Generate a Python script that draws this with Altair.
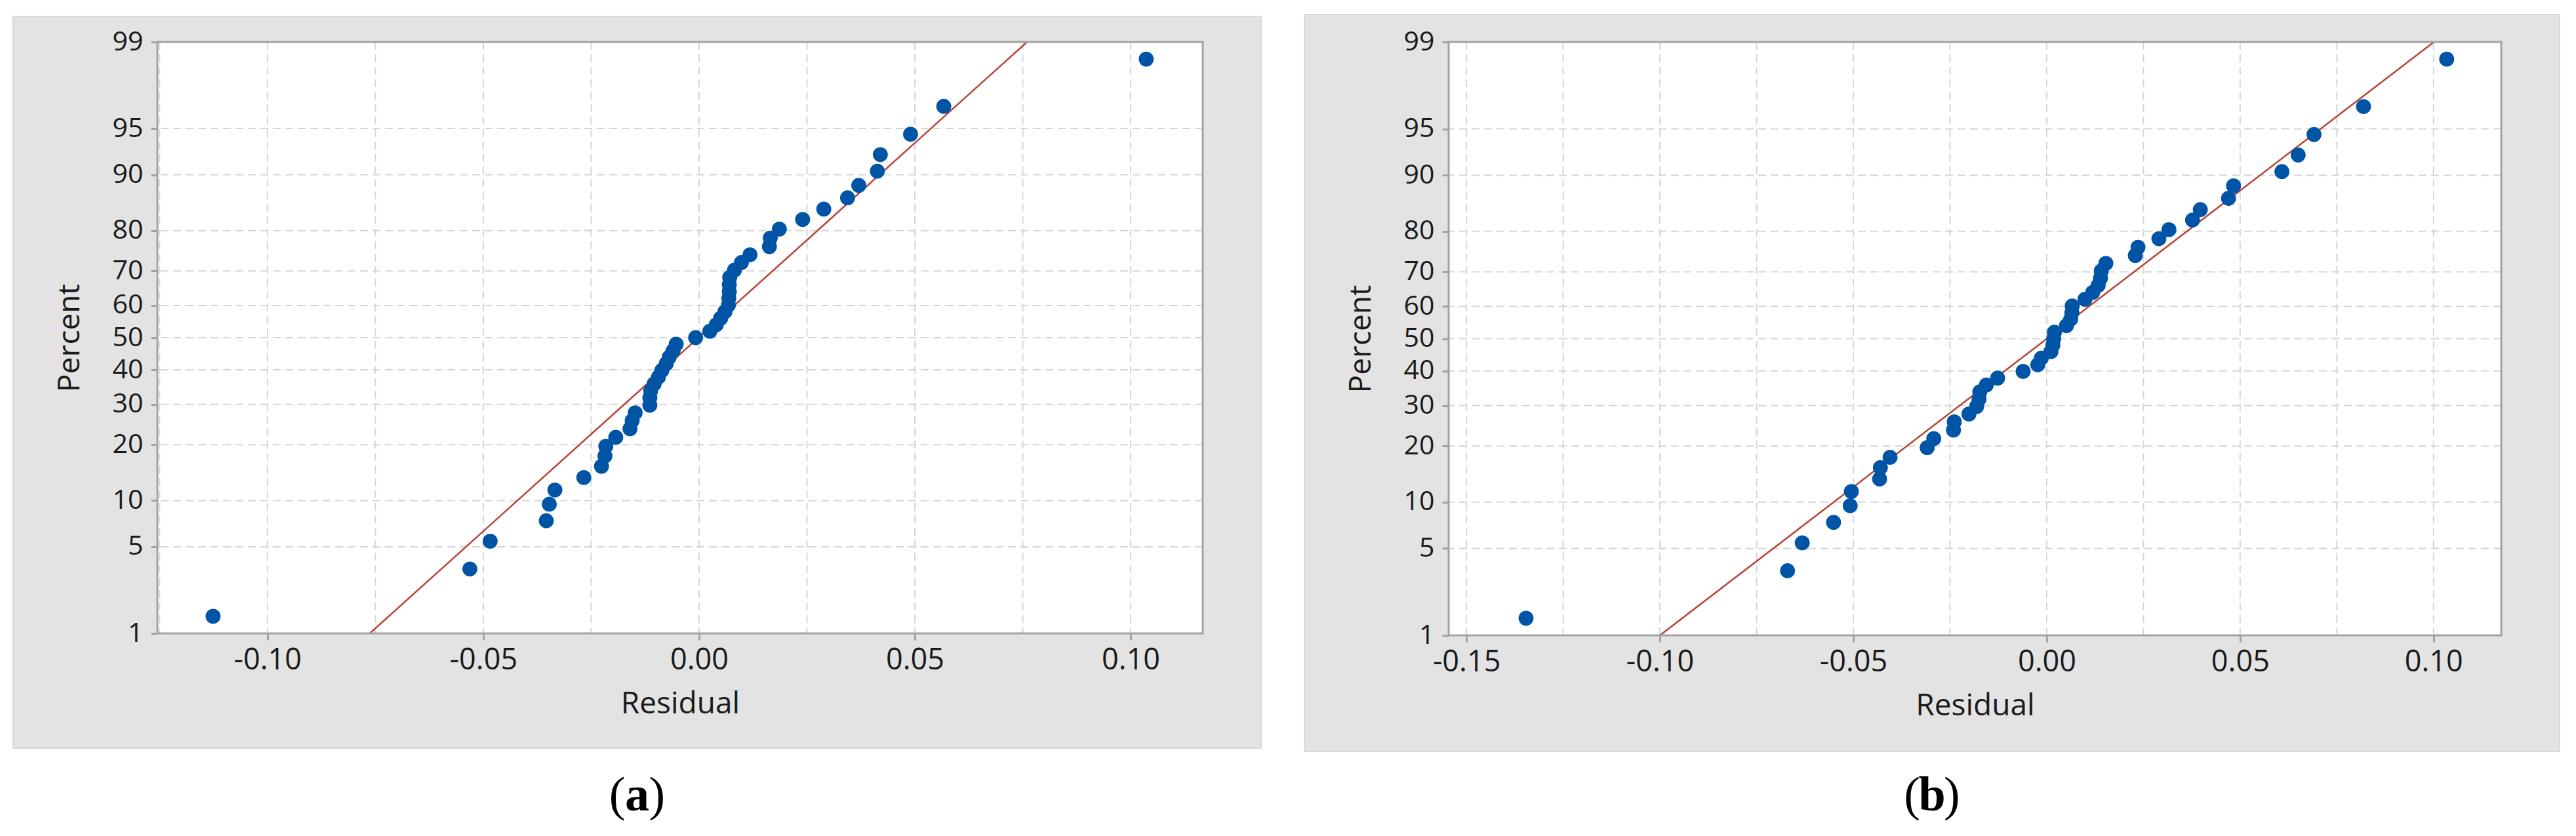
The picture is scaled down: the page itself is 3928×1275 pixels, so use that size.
import altair as alt
import pandas as pd
from statistics import NormalDist

# ---------------- data ----------------
# plotting positions (percent) shared by both panels (49 residuals each)
percent = [1.42, 3.44, 5.47, 7.49, 9.51, 11.54, 13.56, 15.59, 17.61, 19.64,
           21.66, 23.68, 25.71, 27.73, 29.76, 31.78, 33.81, 35.83, 37.85, 39.88,
           41.90, 43.93, 45.95, 47.98, 50.00, 52.02, 54.05, 56.07, 58.10, 60.12,
           62.15, 64.17, 66.19, 68.22, 70.24, 72.27, 74.29, 76.32, 78.34, 80.36,
           82.39, 84.41, 86.44, 88.46, 90.49, 92.51, 94.53, 96.56, 98.58]

resid_a = [-0.1126, -0.0531, -0.0484, -0.0354, -0.0347, -0.0334, -0.0267, -0.0226, -0.0218, -0.0216,
           -0.0193, -0.0160, -0.0155, -0.0148, -0.0114, -0.0114, -0.0112, -0.0104, -0.0094, -0.0086,
           -0.0076, -0.0069, -0.0060, -0.0053, -0.0008, 0.0025, 0.0040, 0.0050, 0.0060, 0.0068,
           0.0069, 0.0070, 0.0070, 0.0071, 0.0082, 0.0098, 0.0118, 0.0163, 0.0165, 0.0186,
           0.0240, 0.0289, 0.0344, 0.0370, 0.0413, 0.0420, 0.0490, 0.0567, 0.1036]

resid_b = [-0.1346, -0.0670, -0.0632, -0.0551, -0.0508, -0.0505, -0.0432, -0.0430, -0.0405, -0.0309,
           -0.0292, -0.0241, -0.0239, -0.0201, -0.0181, -0.0175, -0.0173, -0.0156, -0.0127, -0.0061,
           -0.0023, -0.0014, 0.0011, 0.0016, 0.0018, 0.0020, 0.0051, 0.0062, 0.0065, 0.0066,
           0.0099, 0.0119, 0.0133, 0.0139, 0.0141, 0.0153, 0.0229, 0.0236, 0.0290, 0.0316,
           0.0377, 0.0397, 0.0470, 0.0483, 0.0608, 0.0650, 0.0691, 0.0819, 0.1034]

# fitted normal reference lines (endpoints at 1 % and 99 %)
fit_pct = [1, 99]
fit_a = [-0.0763, 0.0760]
fit_b = [-0.1000, 0.1001]

# axis ticks / grid
y_ticks = [1, 5, 10, 20, 30, 40, 50, 60, 70, 80, 90, 95, 99]
y_grid = [5, 10, 20, 30, 40, 50, 60, 70, 80, 90, 95]
x_ticks_a = [-0.10, -0.05, 0.00, 0.05, 0.10]
x_grid_a = [-0.125, -0.10, -0.075, -0.05, -0.025, 0.0, 0.025, 0.05, 0.075, 0.10]
x_dom_a = [-0.1255, 0.1167]
x_ticks_b = [-0.15, -0.10, -0.05, 0.00, 0.05, 0.10]
x_grid_b = [-0.15, -0.125, -0.10, -0.075, -0.05, -0.025, 0.0, 0.025, 0.05, 0.075, 0.10]
x_dom_b = [-0.1546, 0.1175]

# ---------------- styling ----------------
FONT = "Open Sans"
SERIF = "Liberation Serif"
TXT = "#1a1a1a"
GRAY = "#e3e3e3"
FRAME = "#a3a3a3"
GRID = "#d6d6d6"
BLUE = "#0054a6"
RED = "#b8453a"

nd = NormalDist()
z_ticks = [nd.inv_cdf(p / 100) for p in y_ticks]
z_dom = [nd.inv_cdf(0.01), nd.inv_cdf(0.99)]
ZCALC = "quantileNormal(datum.pct / 100)"


def panel(resid, fit_x, xdom, xticks, xgrid, w, h, gtop, gbot, letter):
    xs = alt.Scale(domain=xdom, nice=False, zero=False)
    ys = alt.Scale(domain=z_dom, nice=False, zero=False)
    xaxis = alt.Axis(values=xticks, title="Residual",
                     labelExpr="replace(format(datum.value, '.2f'), '\u2212', '-')",
                     domain=False, grid=False, ticks=True, tickSize=10, tickWidth=3,
                     tickColor=FRAME, labelFont=FONT, labelFontSize=45, labelColor=TXT,
                     labelPadding=8, labelFlush=False, labelOverlap=False,
                     titleFont=FONT, titleFontSize=46, titleFontWeight="normal",
                     titleColor=TXT, titlePadding=22, zindex=1)
    yaxis = alt.Axis(values=z_ticks, title="Percent",
                     labelExpr="format(cumulativeNormal(datum.value) * 100, '.0f')",
                     domain=False, grid=False, ticks=True, tickSize=10, tickWidth=3,
                     tickColor=FRAME, labelFont=FONT, labelFontSize=41, labelColor=TXT,
                     labelPadding=12, labelFlush=False, labelOverlap=False,
                     titleFont=FONT, titleFontSize=46, titleFontWeight="normal",
                     titleColor=TXT, titlePadding=41, zindex=1)
    X = alt.X("r:Q", scale=xs, axis=xaxis)
    Y = alt.Y("z:Q", scale=ys, axis=yaxis)
    one = pd.DataFrame({"k": [0]})

    bg = alt.Chart(one).mark_rect(color=GRAY, stroke="#d8d8d8", strokeWidth=2).encode(
        x=alt.value(-220), x2=alt.value(w + 89), y=alt.value(gtop), y2=alt.value(h + gbot))
    white = alt.Chart(one).mark_rect(color="white").encode(
        x=alt.value(0), x2=alt.value(w), y=alt.value(0), y2=alt.value(h))
    vgrid = alt.Chart(pd.DataFrame({"r": xgrid})).mark_rule(
        color=GRID, strokeWidth=2, strokeDash=[12, 7]).encode(x=X)
    hgrid = alt.Chart(pd.DataFrame({"pct": y_grid})).transform_calculate(
        z=ZCALC).mark_rule(color=GRID, strokeWidth=2, strokeDash=[12, 7]).encode(y=Y)
    fit = alt.Chart(pd.DataFrame({"r": fit_x, "pct": fit_pct})).transform_calculate(
        z=ZCALC).mark_line(color=RED, strokeWidth=2.5).encode(x=X, y=Y)
    pts = alt.Chart(pd.DataFrame({"r": resid, "pct": percent})).transform_calculate(
        z=ZCALC).mark_circle(color=BLUE, size=520, opacity=1).encode(x=X, y=Y)
    frame = alt.Chart(one).mark_rect(filled=False, stroke=FRAME, strokeWidth=3).encode(
        x=alt.value(0), x2=alt.value(w), y=alt.value(0), y2=alt.value(h))

    cx = (w + 89 - 220) / 2
    ty = 1172
    lp = alt.Chart(one).mark_text(text="(", font=SERIF, fontSize=74, align="right",
                                  baseline="alphabetic", color="black").encode(
        x=alt.value(cx - 18), y=alt.value(ty))
    lt = alt.Chart(one).mark_text(text=letter, font=SERIF, fontSize=74, fontWeight="bold",
                                  align="center", baseline="alphabetic", color="black").encode(
        x=alt.value(cx), y=alt.value(ty))
    rp = alt.Chart(one).mark_text(text=")", font=SERIF, fontSize=74, align="left",
                                  baseline="alphabetic", color="black").encode(
        x=alt.value(cx + 18), y=alt.value(ty))

    return alt.layer(bg, white, vgrid, hgrid, fit, pts, frame, lp, lt, rp).properties(
        width=w, height=h)


pa = panel(resid_a, fit_a, x_dom_a, x_ticks_a, x_grid_a, 1594, 902, -39, 175, "a")
pb = panel(resid_b, fit_b, x_dom_b, x_ticks_b, x_grid_b, 1605, 905, -42, 177, "b")

chart = alt.hconcat(pa, pb, spacing=375, bounds="flush",
                    padding={"left": 11, "top": 13, "right": 8, "bottom": 2},
                    background="white").configure_view(strokeWidth=0)

chart.save("out.html", embed_options={"renderer": "svg", "actions": False})
